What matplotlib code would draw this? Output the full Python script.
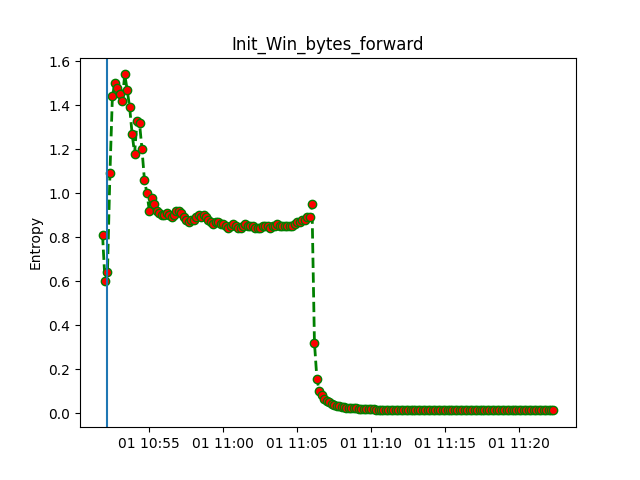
import matplotlib
matplotlib.use("Agg")
import matplotlib.pyplot as plt
import matplotlib.dates as mdates
import pandas as pd

start = "2021-01-01 10:51:50"
step = "10s"
vline_time = "2021-01-01 10:52:10"
title = "Init_Win_bytes_forward"
ylabel = "Entropy"

head = [0.81, 0.60, 0.64, 1.09, 1.44, 1.50, 1.48, 1.45, 1.42, 1.54, 1.47, 1.39,
        1.27, 1.18, 1.33, 1.32, 1.20, 1.06, 1.00, 0.92, 0.98, 0.95]
plateau = [0.92, 0.91, 0.90, 0.90, 0.91, 0.90, 0.89, 0.90, 0.92, 0.92, 0.91, 0.89,
           0.88, 0.87, 0.88, 0.88, 0.89, 0.90, 0.89, 0.90, 0.89, 0.88, 0.87, 0.86,
           0.87, 0.87, 0.86, 0.86, 0.85, 0.84, 0.85, 0.86, 0.85, 0.84, 0.84, 0.85,
           0.86, 0.85, 0.85, 0.85, 0.84, 0.84, 0.84, 0.85, 0.85, 0.85, 0.84, 0.85,
           0.85, 0.86, 0.85, 0.85, 0.85, 0.85, 0.85, 0.85, 0.86, 0.87, 0.87, 0.88,
           0.88, 0.89, 0.89]
drop = [0.95, 0.32, 0.155, 0.10, 0.08, 0.065, 0.055, 0.048, 0.042, 0.038, 0.034,
        0.031, 0.029, 0.027, 0.025, 0.024, 0.023, 0.022, 0.021, 0.020, 0.019,
        0.019, 0.018, 0.018, 0.017, 0.017, 0.016, 0.016, 0.015, 0.015, 0.015,
        0.014, 0.014, 0.014, 0.013, 0.013]
tail = [0.012, 0.012, 0.012, 0.012, 0.012, 0.012, 0.012, 0.012, 0.012, 0.012,
        0.012, 0.012, 0.012, 0.012, 0.012, 0.012, 0.012, 0.012, 0.012, 0.012,
        0.012, 0.012, 0.012, 0.012, 0.012, 0.012, 0.012, 0.012, 0.012, 0.012,
        0.012, 0.012, 0.012, 0.012, 0.012, 0.012, 0.012, 0.012, 0.012, 0.012,
        0.012, 0.012, 0.012, 0.012, 0.012, 0.012, 0.012, 0.012, 0.012, 0.012,
        0.012, 0.012, 0.012, 0.012, 0.012, 0.012, 0.012, 0.012, 0.012, 0.012,
        0.012, 0.012, 0.012]
values = head + plateau + drop + tail
times = pd.date_range(start, periods=len(values), freq=step)

fig, ax = plt.subplots(figsize=(6.4, 4.8), dpi=100)
ax.plot(times, values, color="green", linestyle="--", linewidth=2,
        marker="o", markerfacecolor="red", markeredgecolor="green", markersize=6)
ax.axvline(pd.Timestamp(vline_time), color="C0")
ax.set_title(title)
ax.set_ylabel(ylabel)
ax.xaxis.set_major_locator(mdates.MinuteLocator(byminute=range(0, 60, 5)))
ax.xaxis.set_major_formatter(mdates.DateFormatter("%d %H:%M"))
fig.savefig("out.png")
